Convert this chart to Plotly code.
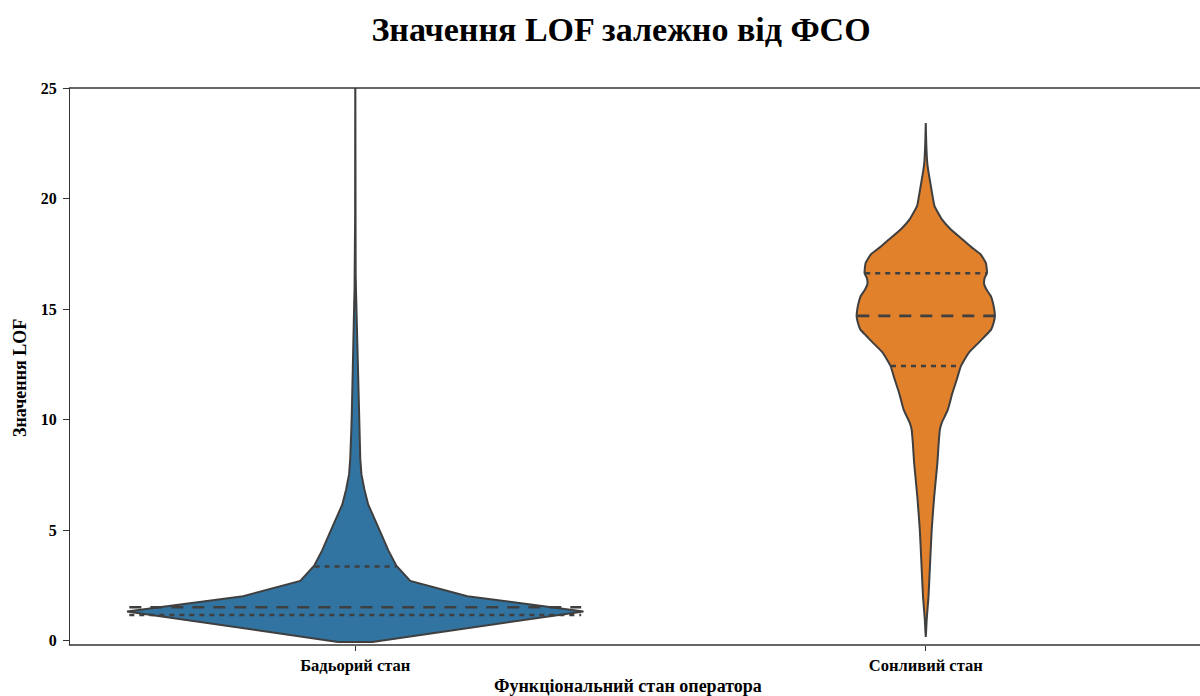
import numpy as np
import plotly.graph_objects as go

# ---------------- data ----------------
categories = ["Бадьорий стан", "Сонливий стан"]

# KDE profile of each violin: LOF value grid and relative density (1 = widest violin)
alert_lof = [-0.06, 0.63, 1.32, 2.01, 2.70, 3.39, 4.08, 4.77, 5.46, 6.15, 6.84,
             7.53, 8.22, 8.91, 9.60, 10.3, 11.0, 11.7, 12.4, 13.1, 13.8, 14.5,
             15.2, 15.9, 16.6, 17.5, 19.0, 21.0, 23.0, 25.0, 26.5]
alert_density = [0.075, 0.535, 1.000, 0.491, 0.241, 0.180, 0.145, 0.116, 0.085,
                 0.057, 0.040, 0.027, 0.022, 0.018, 0.017, 0.015, 0.014, 0.013,
                 0.012, 0.010, 0.008, 0.0066, 0.0048, 0.0031, 0.0018, 0.0010,
                 0.0007, 0.0005, 0.0004, 0.0003, 0.0002]

drowsy_lof = [0.17, 0.50, 0.93, 1.99, 3.50, 5.01, 6.52, 8.04, 9.00, 9.55, 9.85,
              10.45, 11.21, 11.81, 12.42, 13.03, 13.48, 13.80, 14.08, 14.40,
              14.69, 14.99, 15.30, 15.59, 15.85, 16.12, 16.40, 16.62, 16.85,
              17.10, 17.48, 17.80, 18.16, 18.60, 19.07, 19.67, 20.10, 20.58,
              21.26, 21.60, 22.50, 23.42]
drowsy_density = [0.000, 0.002, 0.004, 0.012, 0.019, 0.026, 0.037, 0.051, 0.057,
                  0.062, 0.070, 0.097, 0.117, 0.136, 0.154, 0.189, 0.232, 0.262,
                  0.287, 0.298, 0.303, 0.300, 0.294, 0.285, 0.268, 0.256, 0.258,
                  0.268, 0.267, 0.263, 0.240, 0.200, 0.160, 0.110, 0.070, 0.038,
                  0.030, 0.022, 0.011, 0.0066, 0.0022, 0.0000]

alert_quartiles = [1.16, 1.51, 3.35]
drowsy_quartiles = [12.42, 14.69, 16.62]

fill_colors = ["#3274a1", "#e1812c"]
edge_color = "#3f3f3f"
violin_width = 0.8

profiles = [(alert_lof, alert_density, alert_quartiles),
            (drowsy_lof, drowsy_density, drowsy_quartiles)]

fig = go.Figure()

for i, (vals, dens, quarts) in enumerate(profiles):
    vals = np.asarray(vals, dtype=float)
    dens = np.asarray(dens, dtype=float) * violin_width / 2
    xs = np.concatenate([i - dens, (i + dens)[::-1], [i - dens[0]]])
    ys = np.concatenate([vals, vals[::-1], [vals[0]]])
    fig.add_trace(go.Scatter(
        x=xs, y=ys, mode="lines", fill="toself",
        fillcolor=fill_colors[i],
        line=dict(color=edge_color, width=2, shape="spline", smoothing=0.4) if i == 1
        else dict(color=edge_color, width=2),
        hoverinfo="skip", showlegend=False))
    # quartile lines (width taken at nearest grid point, as seaborn does)
    for k, q in enumerate(quarts):
        idx = int(np.argmin(np.abs(vals - q)))
        hw = dens[idx] * 0.99
        fig.add_trace(go.Scatter(
            x=[i - hw, i + hw], y=[q, q], mode="lines",
            line=dict(color=edge_color, width=2.6,
                      dash="12px,9px" if k == 1 else "5px,5px"),
            hoverinfo="skip", showlegend=False))

serif = "Liberation Serif, Times New Roman, serif"
spine = "#333333"

fig.update_layout(
    width=1200, height=696,
    margin=dict(l=70, r=0, t=88, b=51),
    paper_bgcolor="white", plot_bgcolor="white",
    hovermode=False,
    title=dict(text="Значення LOF залежно від ФСО",
               font=dict(family=serif, size=34, color="black", weight="bold"),
               xref="container", x=621 / 1200, xanchor="center",
               yref="container", y=1 - 29 / 696, yanchor="middle"),
    font=dict(family=serif, color="black"),
    xaxis=dict(range=[-0.5, (1200 - 356) / 570], tickvals=[0, 1], ticktext=categories,
               showgrid=False, zeroline=False, showline=False,
               ticks="outside", ticklen=5, tickcolor=spine, tickwidth=1,
               tickfont=dict(family=serif, size=16.5, color="black", weight="bold")),
    yaxis=dict(range=[-0.2, 25.0], tickvals=[0, 5, 10, 15, 20, 25],
               showgrid=False, zeroline=False, showline=True, mirror=False,
               linecolor=spine, linewidth=1.3,
               ticks="outside", ticklen=6, tickcolor=spine, tickwidth=1,
               ticklabelstandoff=3,
               tickfont=dict(family=serif, size=16, color="black", weight="bold")),
    shapes=[
        dict(type="line", xref="paper", yref="paper", x0=-0.001, x1=1.02, y0=1, y1=1,
             line=dict(color=spine, width=1.3), layer="above"),
        dict(type="line", xref="paper", yref="paper", x0=-0.001, x1=1.02, y0=0, y1=0,
             line=dict(color=spine, width=1.3), layer="above"),
    ],
    annotations=[
        dict(text="Функціональний стан оператора", xref="paper", yref="paper",
             x=(628 - 70) / 1130, y=-(686 - 645) / 557, xanchor="center", yanchor="middle",
             showarrow=False,
             font=dict(family=serif, size=18, color="black", weight="bold")),
        dict(text="Значення LOF", xref="paper", yref="paper",
             x=-(70 - 20) / 1130, y=(645 - 378) / 557, xanchor="center", yanchor="middle",
             textangle=-90, showarrow=False,
             font=dict(family=serif, size=18, color="black", weight="bold")),
    ],
)

fig.write_html("out.html",
               config={"displayModeBar": False},
               post_script="document.body.style.margin='0';document.body.style.padding='0';"
                           "document.body.style.overflow='hidden';"
                           "document.documentElement.style.overflow='hidden';")
